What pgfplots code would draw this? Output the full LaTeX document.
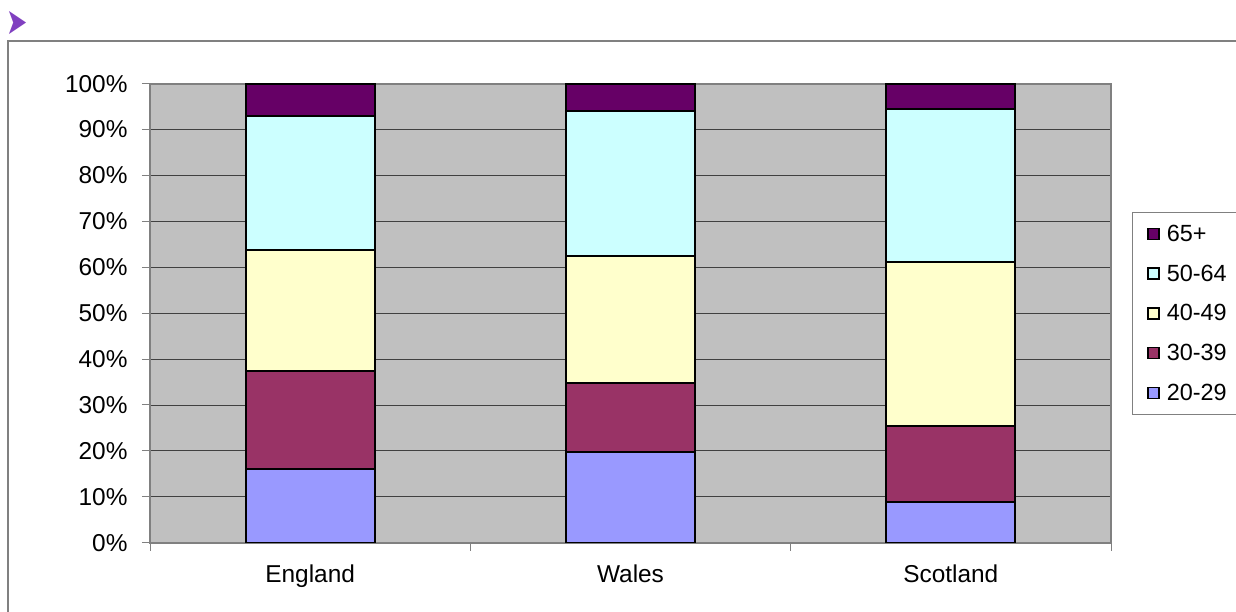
\documentclass[border=0pt]{standalone}
\usepackage{pgfplots}
\pgfplotsset{compat=1.18}
\usepackage{fontspec}
\setmainfont{Liberation Sans}
\newfontfamily\symfont{DejaVu Sans}
\definecolor{cA}{HTML}{9999FF}
\definecolor{cB}{HTML}{993366}
\definecolor{cC}{HTML}{FFFFCC}
\definecolor{cD}{HTML}{CCFFFF}
\definecolor{cE}{HTML}{660066}
\definecolor{bgGrey}{HTML}{C0C0C0}
\definecolor{frameGrey}{HTML}{808080}
\definecolor{bullet}{HTML}{8040C0}
\begin{document}
\begin{tikzpicture}
\useasboundingbox (0bp,0bp) rectangle (1236bp,612bp);
\draw[frameGrey, line width=1.3bp] (8bp,0bp) -- (8bp,571bp) -- (1240bp,571bp);
\node[text=bullet, font=\symfont\fontsize{32}{36}\selectfont, inner sep=0pt, xscale=0.8, yscale=1.15] at (17bp,589bp) {➤};
\begin{axis}[
  at={(150bp,69.3bp)}, anchor=south west,
  scale only axis, width=961bp, height=459bp,
  ybar stacked, bar width=128.7bp,
  xmin=0.5, xmax=3.5, ymin=0, ymax=100,
  xtick={0.5,1.5,2.5,3.5}, xticklabels={},
  extra x ticks={1,2,3},
  extra x tick labels={England,Wales,Scotland},
  extra x tick style={major tick length=0pt, xticklabel style={yshift=-19bp}},
  ytick={0,10,...,100},
  yticklabel={\pgfmathprintnumber{\tick}\%},
  /pgf/number format/assume math mode=true,
  ticklabel style={font=\fontsize{24.5}{28}\selectfont},
  yticklabel style={xshift=-11bp},
  tick align=outside, tickpos=left, major tick length=8bp,
  tick style={draw=frameGrey, line width=1bp},
  axis line style={draw=frameGrey, line width=1.8bp},
  axis background/.style={fill=bgGrey},
  ymajorgrids, grid style={draw=black!75, line width=0.9bp},
  reverse legend,
  legend cell align=left,
  every axis plot post/.append style={legend image code/.code={\draw[#1,draw=black,line width=1.4bp] (0bp,-5.5bp) rectangle (11bp,5.5bp);}},
  legend style={at={(1.0219,0.7205)}, anchor=north west, draw=frameGrey, line width=0.8bp,
    font=\fontsize{23.5}{27}\selectfont, row sep=18bp, inner xsep=15bp, inner ysep=10.5bp,
    text width=75bp, /tikz/every odd column/.append style={column sep=5bp}},
]
\addplot[fill=cA, draw=black, line width=2bp] coordinates {(1,16.1) (2,19.8) (3,8.9)};
\addplot[fill=cB, draw=black, line width=2bp] coordinates {(1,21.2) (2,14.9) (3,16.5)};
\addplot[fill=cC, draw=black, line width=2bp] coordinates {(1,26.5) (2,27.8) (3,35.7)};
\addplot[fill=cD, draw=black, line width=2bp] coordinates {(1,29.2) (2,31.6) (3,33.3)};
\addplot[fill=cE, draw=black, line width=2bp] coordinates {(1,7.0) (2,5.9) (3,5.6)};
\legend{20-29,30-39,40-49,50-64,65+}
\end{axis}
\end{tikzpicture}
\end{document}
